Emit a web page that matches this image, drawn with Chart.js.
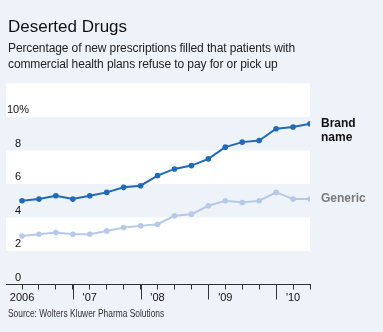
<!DOCTYPE html>
<html>
<head>
<meta charset="utf-8">
<script src="https://cdn.jsdelivr.net/npm/chart.js@4/dist/chart.umd.min.js"></script>
<style>
  html, body { margin: 0; padding: 0; background: #eef2f9; }
  #wrap { position: relative; width: 383px; height: 332px; overflow: hidden;
          font-family: "Liberation Sans", Arial, sans-serif; }
  #chart { position: absolute; left: 0; top: 0; }
  .title { position: absolute; left: 8px; top: 17px; font-size: 17px; color: #111; white-space: nowrap; }
  .sub { position: absolute; left: 8px; top: 40px; font-size: 12px; line-height: 16px; color: #222;
         white-space: nowrap; letter-spacing: -0.1px; }
  .src { position: absolute; left: 8px; top: 308px; font-size: 10px; color: #333; white-space: nowrap;
         transform: scaleX(0.84); transform-origin: left center; }
</style>
</head>
<body>
<div id="wrap">
  <canvas id="chart" width="383" height="332"></canvas>
  <div class="title">Deserted Drugs</div>
  <div class="sub">Percentage of new prescriptions filled that patients with<br>commercial health plans refuse to pay for or pick up</div>
  <div class="src">Source: Wolters Kluwer Pharma Solutions</div>
</div>
<script>
// Quarterly x-axis labels (year shown at the first quarter of each year)
const tickLabels = ['2006', '', '', '', "'07", '', '', '', "'08", '', '', '', "'09", '', '', '', "'10", ''];
// Share of new prescriptions abandoned, percent
const brandName = [5.0, 5.1, 5.3, 5.1, 5.3, 5.5, 5.8, 5.9, 6.5, 6.9, 7.1, 7.5, 8.2, 8.5, 8.6, 9.3, 9.4, 9.6];
const generic   = [2.9, 3.0, 3.1, 3.0, 3.0, 3.2, 3.4, 3.5, 3.6, 4.1, 4.2, 4.7, 5.0, 4.9, 5.0, 5.5, 5.1, 5.1];
const yTicks = [0, 2, 4, 6, 8, 10];
const seriesNames = [['Brand', 'name'], ['Generic']];

const FONT = '"Liberation Sans", Arial, sans-serif';
Chart.defaults.font.family = FONT;

// Alternating horizontal bands behind the plot
const bandsPlugin = {
  id: 'bands',
  beforeDraw(chart) {
    const { ctx, chartArea, scales: { y } } = chart;
    ctx.save();
    ctx.fillStyle = '#ffffff';
    for (let v = 2; v < 12; v += 4) {
      const top = y.getPixelForValue(v + 2);
      const bottom = y.getPixelForValue(v);
      ctx.fillRect(chartArea.left, top, chartArea.right - chartArea.left, bottom - top);
    }
    ctx.restore();
  }
};

// Longer tick marks at the year boundaries
const yearTicksPlugin = {
  id: 'yearTicks',
  afterDraw(chart) {
    const { ctx, scales: { x } } = chart;
    ctx.save();
    ctx.strokeStyle = '#333';
    ctx.lineWidth = 1;
    tickLabels.forEach((_, i) => {
      if (tickLabels[i + 1]) {
        const px = Math.round(x.getPixelForValue(i)) + 0.5;
        ctx.beginPath();
        ctx.moveTo(px, x.top);
        ctx.lineTo(px, x.top + 15);
        ctx.stroke();
      }
    });
    ctx.restore();
  }
};

// Series names at the end of each line
const endLabelsPlugin = {
  id: 'endLabels',
  afterDatasetsDraw(chart) {
    const { ctx } = chart;
    ctx.save();
    ctx.font = 'bold 12px ' + FONT;
    ctx.textAlign = 'left';
    ctx.textBaseline = 'middle';
    const colors = ['#111111', '#7a7a7a'];
    chart.data.datasets.forEach((ds, di) => {
      const meta = chart.getDatasetMeta(di);
      const pt = meta.data[meta.data.length - 1];
      ctx.fillStyle = colors[di];
      seriesNames[di].forEach((line, li) => {
        ctx.fillText(line, pt.x + 11, pt.y + li * 14);
      });
    });
    ctx.restore();
  }
};

new Chart(document.getElementById('chart'), {
  type: 'line',
  data: {
    datasets: [
      {
        label: 'Brand name',
        data: brandName.map((v, i) => ({ x: i, y: v })),
        borderColor: '#1f69b8',
        backgroundColor: '#1f69b8',
        borderWidth: 2,
        pointRadius: 2.8,
        pointBorderWidth: 0,
        tension: 0
      },
      {
        label: 'Generic',
        data: generic.map((v, i) => ({ x: i, y: v })),
        borderColor: '#b6c9e8',
        backgroundColor: '#b6c9e8',
        borderWidth: 2,
        pointRadius: 2.8,
        pointBorderWidth: 0,
        tension: 0
      }
    ]
  },
  options: {
    responsive: false,
    animation: false,
    events: [],
    layout: { padding: { left: 6, right: 73, top: 83.5, bottom: 0 } },
    plugins: { legend: { display: false }, tooltip: { enabled: false } },
    scales: {
      x: {
        type: 'linear',
        min: -0.945,
        max: 17,
        afterBuildTicks: (s) => { s.ticks = tickLabels.map((_, i) => ({ value: i })); },
        afterFit: (s) => { s.height = 47.5; },
        ticks: {
          autoSkip: false,
          maxRotation: 0,
          padding: 2,
          color: '#111',
          font: { size: 11 },
          callback: (v) => tickLabels[v] ?? ''
        },
        grid: { drawOnChartArea: false, tickLength: 5, tickColor: '#333', tickWidth: 1 },
        border: { color: '#333', width: 1 }
      },
      y: {
        min: 0,
        max: 12,
        afterBuildTicks: (s) => { s.ticks = yTicks.map(v => ({ value: v })); },
        afterFit: (s) => { s.width = 0; },
        ticks: {
          mirror: true,
          crossAlign: 'center',
          padding: 1,
          labelOffset: -7,
          color: '#111',
          font: { size: 11 },
          callback: (v) => (v === 10 ? '10%' : String(v))
        },
        grid: { display: false },
        border: { display: false }
      }
    }
  },
  plugins: [bandsPlugin, yearTicksPlugin, endLabelsPlugin]
});
</script>
</body>
</html>
